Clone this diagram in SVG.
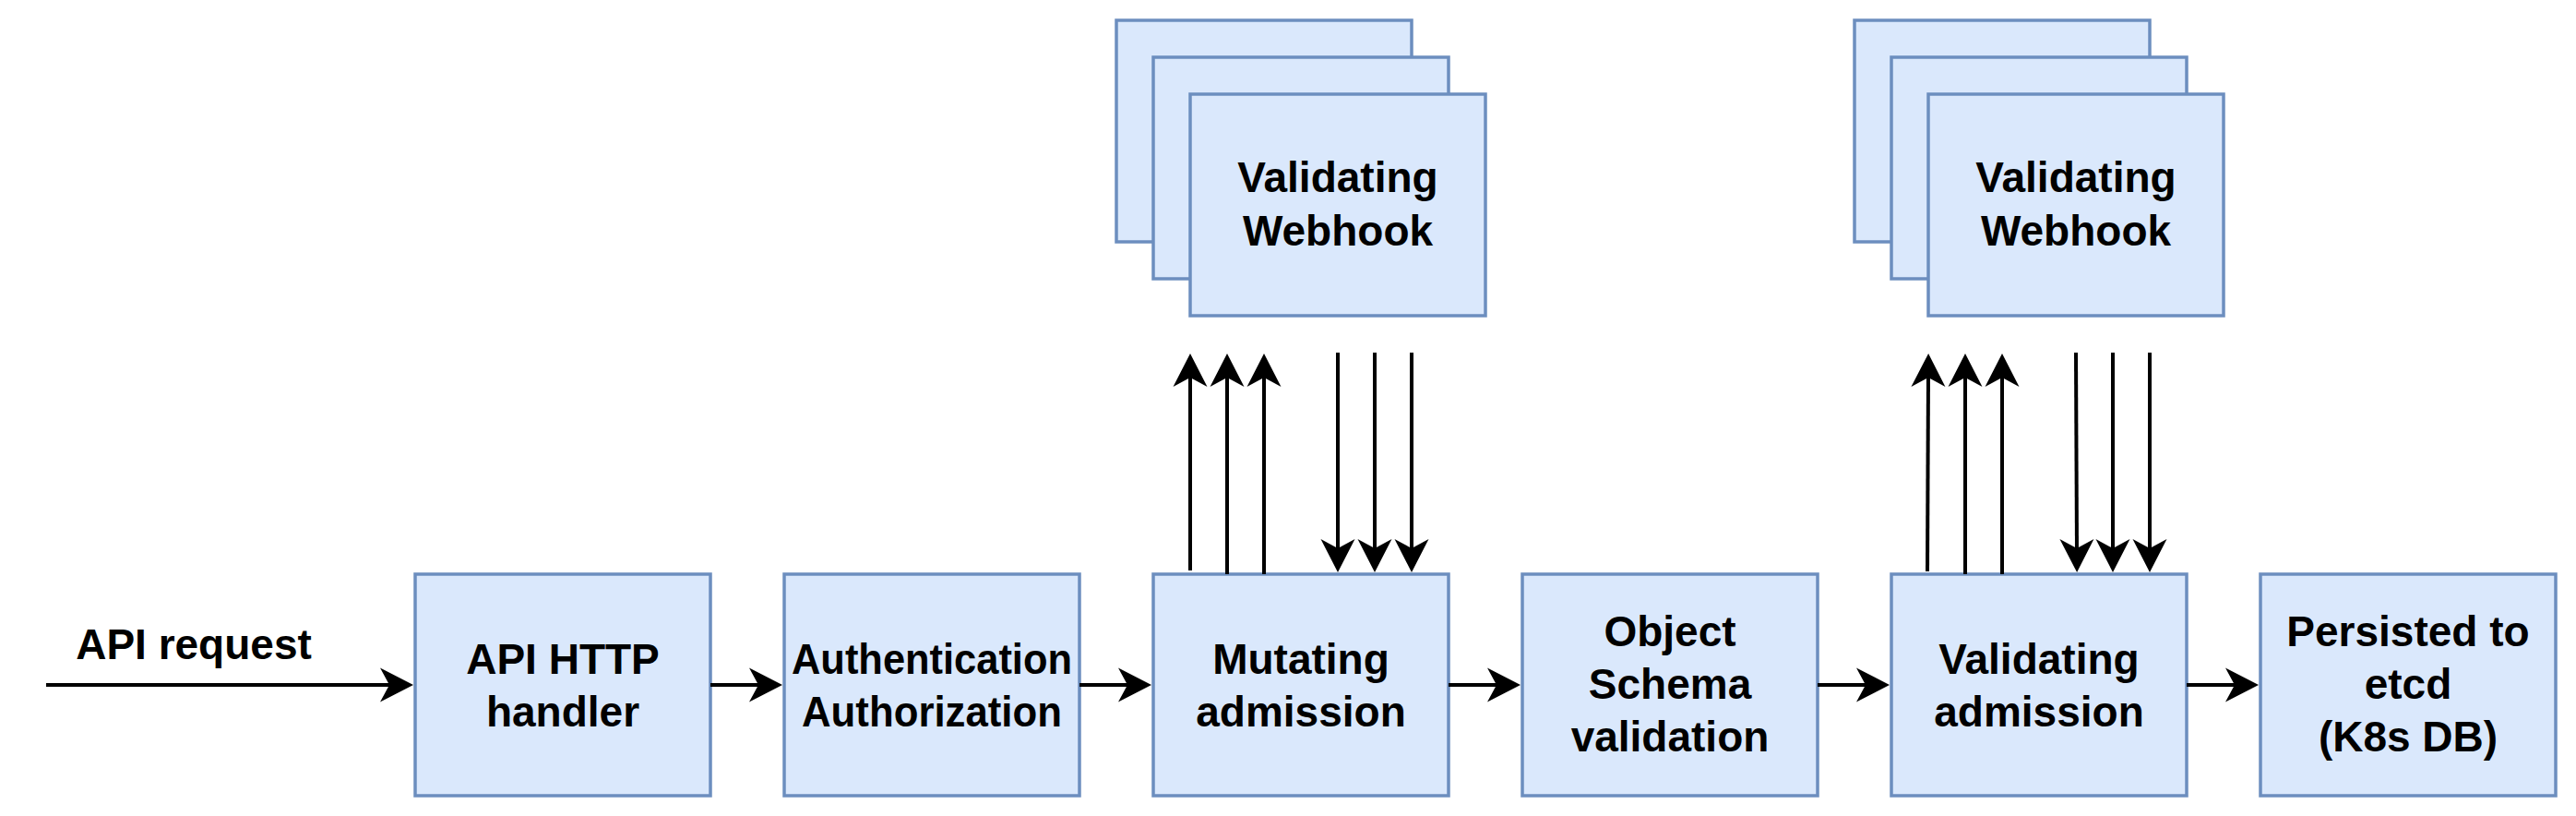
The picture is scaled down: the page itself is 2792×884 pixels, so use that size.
<svg xmlns="http://www.w3.org/2000/svg" width="2792" height="884" viewBox="0 0 2792 884">
<style>
.box{fill:#dae8fc;stroke:#6c8ebf;stroke-width:3.5}
.lbl{font-family:"Liberation Sans",Arial,Helvetica,sans-serif;font-weight:bold;font-size:46px;fill:#000;text-anchor:middle}
.edge{stroke:#000;stroke-width:4;fill:none;marker-end:url(#arr)}
</style>
<defs>
<marker id="arr" viewBox="-37 -20 38 40" markerWidth="38" markerHeight="40" refX="-22" refY="0" orient="auto" markerUnits="userSpaceOnUse">
<path d="M0,0 L-36,-18.5 L-26,0 L-36,18.5 Z" fill="#000"/>
</marker>
</defs>
<rect width="2792" height="884" fill="#fff"/>
<g id="webhooks1">
<rect class="box" x="1210" y="22" width="320" height="240"/>
<rect class="box" x="1250" y="62" width="320" height="240"/>
<rect class="box" x="1290" y="102" width="320" height="240"/>
<text class="lbl" x="1450" y="208">Validating</text>
<text class="lbl" x="1450" y="266">Webhook</text>
</g>
<g id="webhooks2">
<rect class="box" x="2010" y="22" width="320" height="240"/>
<rect class="box" x="2050" y="62" width="320" height="240"/>
<rect class="box" x="2090" y="102" width="320" height="240"/>
<text class="lbl" x="2250" y="208">Validating</text>
<text class="lbl" x="2250" y="266">Webhook</text>
</g>
<g id="api-http">
<rect class="box" x="450" y="622" width="320" height="240"/>
<text class="lbl" x="610" y="730">API HTTP</text>
<text class="lbl" x="610" y="787">handler</text>
</g>
<g id="authn">
<rect class="box" x="850" y="622" width="320" height="240"/>
<text class="lbl" x="1010" y="730" textLength="304" lengthAdjust="spacingAndGlyphs">Authentication</text>
<text class="lbl" x="1010" y="787" textLength="282" lengthAdjust="spacingAndGlyphs">Authorization</text>
</g>
<g id="mutating">
<rect class="box" x="1250" y="622" width="320" height="240"/>
<text class="lbl" x="1410" y="730">Mutating</text>
<text class="lbl" x="1410" y="787">admission</text>
</g>
<g id="schema">
<rect class="box" x="1650" y="622" width="320" height="240"/>
<text class="lbl" x="1810" y="700">Object</text>
<text class="lbl" x="1810" y="757">Schema</text>
<text class="lbl" x="1810" y="814">validation</text>
</g>
<g id="validating">
<rect class="box" x="2050" y="622" width="320" height="240"/>
<text class="lbl" x="2210" y="730">Validating</text>
<text class="lbl" x="2210" y="787">admission</text>
</g>
<g id="persisted">
<rect class="box" x="2450" y="622" width="320" height="240"/>
<text class="lbl" x="2610" y="700">Persisted to</text>
<text class="lbl" x="2610" y="757">etcd</text>
<text class="lbl" x="2610" y="814">(K8s DB)</text>
</g>
<g id="connectors">
<text class="lbl" x="210" y="714">API request</text>
<line class="edge" x1="50" y1="742" x2="426" y2="742"/>
<line class="edge" x1="770" y1="742" x2="826" y2="742"/>
<line class="edge" x1="1170" y1="742" x2="1226" y2="742"/>
<line class="edge" x1="1570" y1="742" x2="1626" y2="742"/>
<line class="edge" x1="1970" y1="742" x2="2026" y2="742"/>
<line class="edge" x1="2370" y1="742" x2="2426" y2="742"/>
<line class="edge" x1="1290" y1="618" x2="1290" y2="405"/>
<line class="edge" x1="1330" y1="622" x2="1330" y2="405"/>
<line class="edge" x1="1370" y1="622" x2="1370" y2="405"/>
<line class="edge" x1="1450" y1="382" x2="1450" y2="598"/>
<line class="edge" x1="1490" y1="382" x2="1490" y2="598"/>
<line class="edge" x1="1530" y1="382" x2="1530" y2="598"/>
<line class="edge" x1="2089" y1="619" x2="2090" y2="405"/>
<line class="edge" x1="2130" y1="622" x2="2130" y2="405"/>
<line class="edge" x1="2170" y1="622" x2="2170" y2="405"/>
<line class="edge" x1="2250" y1="382" x2="2251" y2="598"/>
<line class="edge" x1="2290" y1="382" x2="2290" y2="598"/>
<line class="edge" x1="2330" y1="382" x2="2330" y2="598"/>
</g>
</svg>
